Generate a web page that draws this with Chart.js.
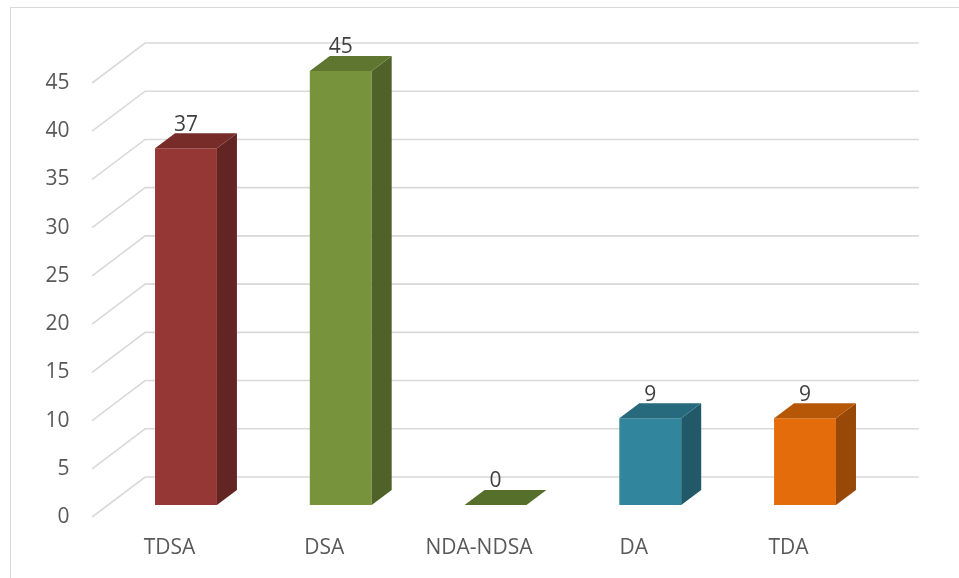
<!DOCTYPE html>
<html>
<head>
<meta charset="utf-8">
<script src="https://cdn.jsdelivr.net/npm/chart.js@4.4.1/dist/chart.umd.min.js"></script>
<style>
  html, body { margin: 0; padding: 0; background: #fff; overflow: hidden; }
  #marco { position: absolute; left: 10px; top: 7px; width: 1000px; height: 620px;
           border-left: 1.5px solid #d9d9d9; border-top: 1.5px solid #d9d9d9; }
  #grafico { position: absolute; left: 0; top: 0; }
</style>
</head>
<body>
<div id="marco"></div>
<canvas id="grafico" width="959" height="578"></canvas>
<script>
// datos del grafico
const categorias = ['TDSA', 'DSA', 'NDA-NDSA', 'DA', 'TDA'];
const valores = [37, 45, 0, 9, 9];
const ticksY = [0, 5, 10, 15, 20, 25, 30, 35, 40, 45];

// colores de cada barra: frente, tapa y costado
const colorFrente = ['#953735', '#77933c', '#77933c', '#31859c', '#e46c0a'];
const colorTapa = ['#772c2a', '#5f7630', '#56702c', '#276a7d', '#b65708'];
const colorCostado = ['#632523', '#4f6228', '#4f6228', '#215968', '#984807'];

// desplazamiento de profundidad (pared del fondo y plano del frente)
const fondo = { dx: 36.5, dy: -28 };
const frente = { dx: -16.5, dy: 12 };
const prof = { dx: 20, dy: -15 };

const fuente = { family: "'Open Sans', 'DejaVu Sans', sans-serif", size: 21 };

// grilla en perspectiva: lineas en la pared del fondo y diagonales al frente
const grilla3d = {
  id: 'grilla3d',
  beforeDatasetsDraw(chart) {
    const { ctx, chartArea, scales } = chart;
    ctx.save();
    ctx.strokeStyle = '#d9d9d9';
    ctx.lineWidth = 1.6;
    ticksY.forEach(v => {
      const y = scales.y.getPixelForValue(v);
      ctx.beginPath();
      ctx.moveTo(chartArea.left + frente.dx, y + frente.dy);
      ctx.lineTo(chartArea.left + fondo.dx, y + fondo.dy);
      ctx.lineTo(chartArea.right + fondo.dx, y + fondo.dy);
      ctx.stroke();
    });
    ctx.restore();
  }
};

// caras de las barras (tapa y costado) y etiquetas de valor
const barras3d = {
  id: 'barras3d',
  afterDatasetsDraw(chart) {
    const { ctx } = chart;
    const meta = chart.getDatasetMeta(0);
    ctx.save();
    meta.data.forEach((bar, i) => {
      const x0 = bar.x - bar.width / 2;
      const x1 = bar.x + bar.width / 2;
      const yt = bar.y;
      const yb = bar.base;
      // costado
      if (yb - yt > 0.5) {
        ctx.fillStyle = colorCostado[i];
        ctx.beginPath();
        ctx.moveTo(x1, yt);
        ctx.lineTo(x1 + prof.dx, yt + prof.dy);
        ctx.lineTo(x1 + prof.dx, yb + prof.dy);
        ctx.lineTo(x1, yb);
        ctx.closePath();
        ctx.fill();
      }
      // tapa
      ctx.fillStyle = colorTapa[i];
      ctx.beginPath();
      ctx.moveTo(x0, yt);
      ctx.lineTo(x1, yt);
      ctx.lineTo(x1 + prof.dx, yt + prof.dy);
      ctx.lineTo(x0 + prof.dx, yt + prof.dy);
      ctx.closePath();
      ctx.fill();
      // valor
      ctx.fillStyle = '#404040';
      ctx.font = fuente.size + 'px ' + fuente.family;
      ctx.textAlign = 'center';
      ctx.textBaseline = 'bottom';
      ctx.fillText(String(valores[i]), bar.x, yt + prof.dy + 2);
    });
    ctx.restore();
  }
};

new Chart(document.getElementById('grafico'), {
  type: 'bar',
  data: {
    labels: categorias,
    datasets: [{
      data: valores,
      backgroundColor: colorFrente,
      borderWidth: 0,
      categoryPercentage: 1,
      barPercentage: 0.4
    }]
  },
  options: {
    responsive: false,
    animation: false,
    events: [],
    layout: { padding: { left: 45, right: 76.6, top: 71, bottom: 0 } },
    plugins: { legend: { display: false }, tooltip: { enabled: false } },
    scales: {
      x: {
        grid: { display: false, drawTicks: false },
        border: { display: false },
        ticks: { color: '#595959', font: fuente, padding: 30, labelOffset: frente.dx, maxRotation: 0 },
        afterFit(scale) { scale.height = 73; }
      },
      y: {
        min: 0,
        max: 45,
        grid: { display: false, drawTicks: false },
        border: { display: false },
        ticks: { stepSize: 5, color: '#595959', font: fuente, padding: 39, labelOffset: frente.dy },
        afterFit(scale) { scale.width = 63.6; }
      }
    }
  },
  plugins: [grilla3d, barras3d]
});
</script>
</body>
</html>
